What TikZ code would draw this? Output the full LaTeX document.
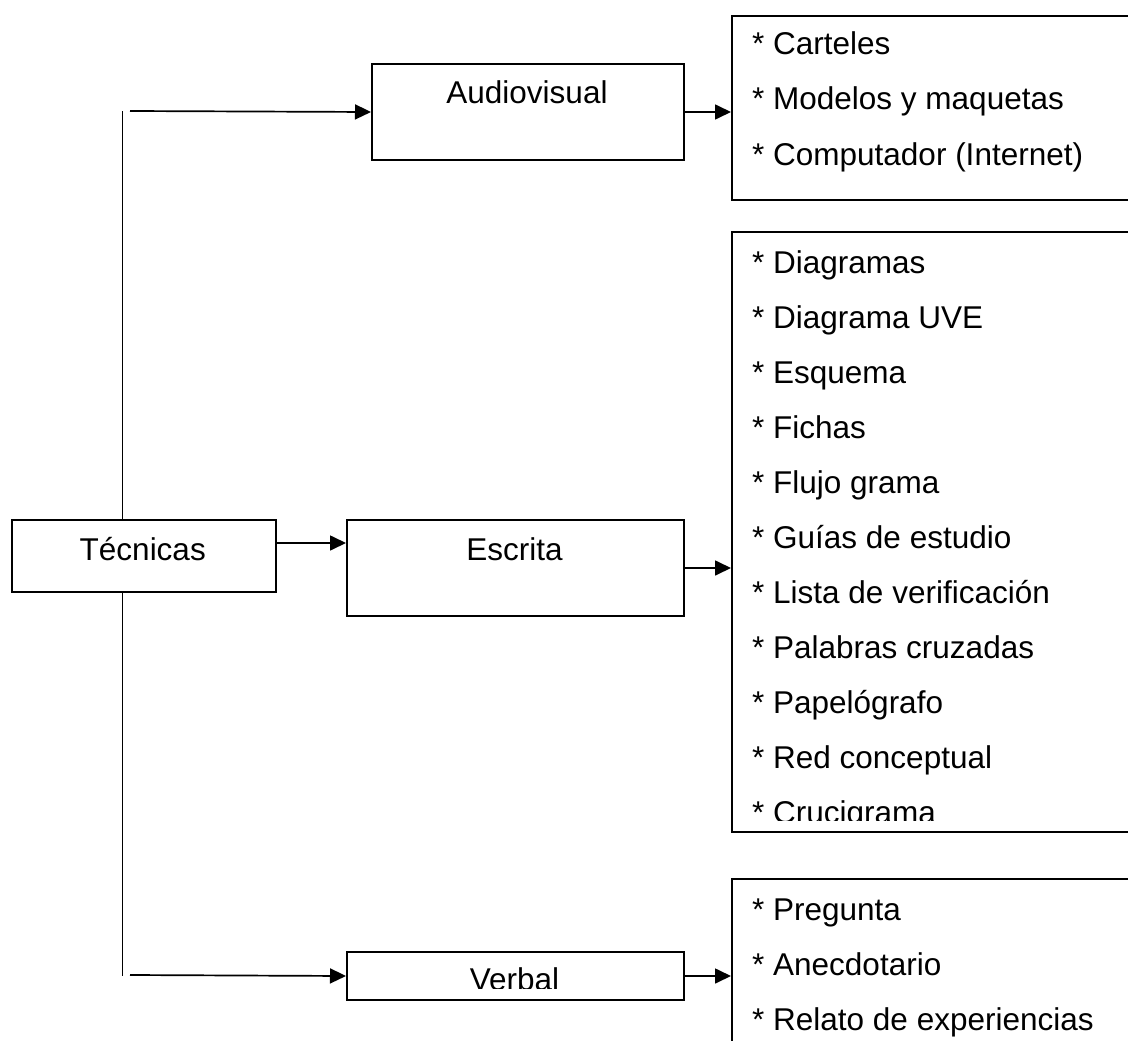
\documentclass[tikz,border=0pt]{standalone}
\usepackage{fontspec}
\setmainfont{Liberation Sans}
\usetikzlibrary{arrows.meta,calc}
\newcommand\bigtxt{\fontsize{31.5}{37}\selectfont}
\begin{document}
\begin{tikzpicture}[x=1pt,y=1pt,
  box/.style={draw, line width=2pt, inner sep=0pt, anchor=north west},
  lbl/.style={font=\bigtxt, inner sep=0pt, anchor=base},
  item/.style={font=\bigtxt, inner sep=0pt, anchor=base west},
  arr/.style={-{Triangle[length=16pt,width=15pt]}, line width=1.7pt},
  conn/.style={line width=1.7pt}]
\useasboundingbox (0,0) rectangle (1128,-1041);
% boxes
\node[box, minimum width=264.5pt, minimum height=72pt] (tec) at (10.5,-519) {};
\node[box, minimum width=312pt, minimum height=96pt] (aud) at (371,-63) {};
\node[box, minimum width=337pt, minimum height=96pt] (esc) at (346,-519) {};
\node[box, minimum width=337pt, minimum height=48pt] (verb) at (346,-951) {};
\node[box, minimum width=420pt, minimum height=184pt] (l1) at (731,-15) {};
\node[box, minimum width=420pt, minimum height=600pt] (l2) at (731,-231) {};
\node[box, minimum width=420pt, minimum height=200pt] (l3) at (731,-878) {};
% labels
\node[lbl] (tect) at (142.75,-560) {Técnicas};
\node[lbl] (audt) at (527,-103) {Audiovisual};
\node[lbl] (esct) at (514.5,-560) {Escrita};
\begin{scope}
  \clip (346,-951) rectangle (683,-988);
  \node[lbl] (verbt) at (514.5,-990) {Verbal};
\end{scope}
% list 1
\node[item] (a1) at (752,-55) {* Carteles};
\node[item] (a2) at (752,-110) {* Modelos y maquetas};
\node[item] (a3) at (752,-165) {* Computador (Internet)};
% list 2
\begin{scope}
  \clip (731,-231) rectangle (1128,-820.5);
  \node[item] (b1) at (752,-273) {* Diagramas};
  \node[item] (b2) at (752,-328) {* Diagrama UVE};
  \node[item] (b3) at (752,-383) {* Esquema};
  \node[item] (b4) at (752,-438) {* Fichas};
  \node[item] (b5) at (752,-493) {* Flujo grama};
  \node[item] (b6) at (752,-548) {* Guías de estudio};
  \node[item] (b7) at (752,-603) {* Lista de verificación};
  \node[item] (b8) at (752,-658) {* Palabras cruzadas};
  \node[item] (b9) at (752,-713) {* Papelógrafo};
  \node[item] (b10) at (752,-768) {* Red conceptual};
  \node[item] (b11) at (752,-823) {* Crucigrama};
\end{scope}
% list 3
\node[item] (c1) at (752,-920) {* Pregunta};
\node[item] (c2) at (752,-975) {* Anecdotario};
\node[item] (c3) at (752,-1030) {* Relato de experiencias};
% connectors
\coordinate (vtop) at (122.5,-111);
\coordinate (vbot) at (122.5,-976);
\coordinate (htop) at (130,-111);
\coordinate (hbot) at (130,-975);
\coordinate (tecy) at (0,-543);
\draw[conn] (vtop) -- (vtop |- tec.north);
\draw[conn] (vbot |- tec.south) -- (vbot);
\draw[arr] (htop) -- (aud.west);
\draw[arr] (hbot) -- (verb.west);
\draw[arr] (tec.east |- tecy) -- (esc.west |- tecy);
\draw[arr] (aud.east) -- (aud.east -| l1.west);
\draw[arr] (esc.east) -- (esc.east -| l2.west);
\draw[arr] (verb.east) -- (verb.east -| l3.west);
\end{tikzpicture}
\end{document}
